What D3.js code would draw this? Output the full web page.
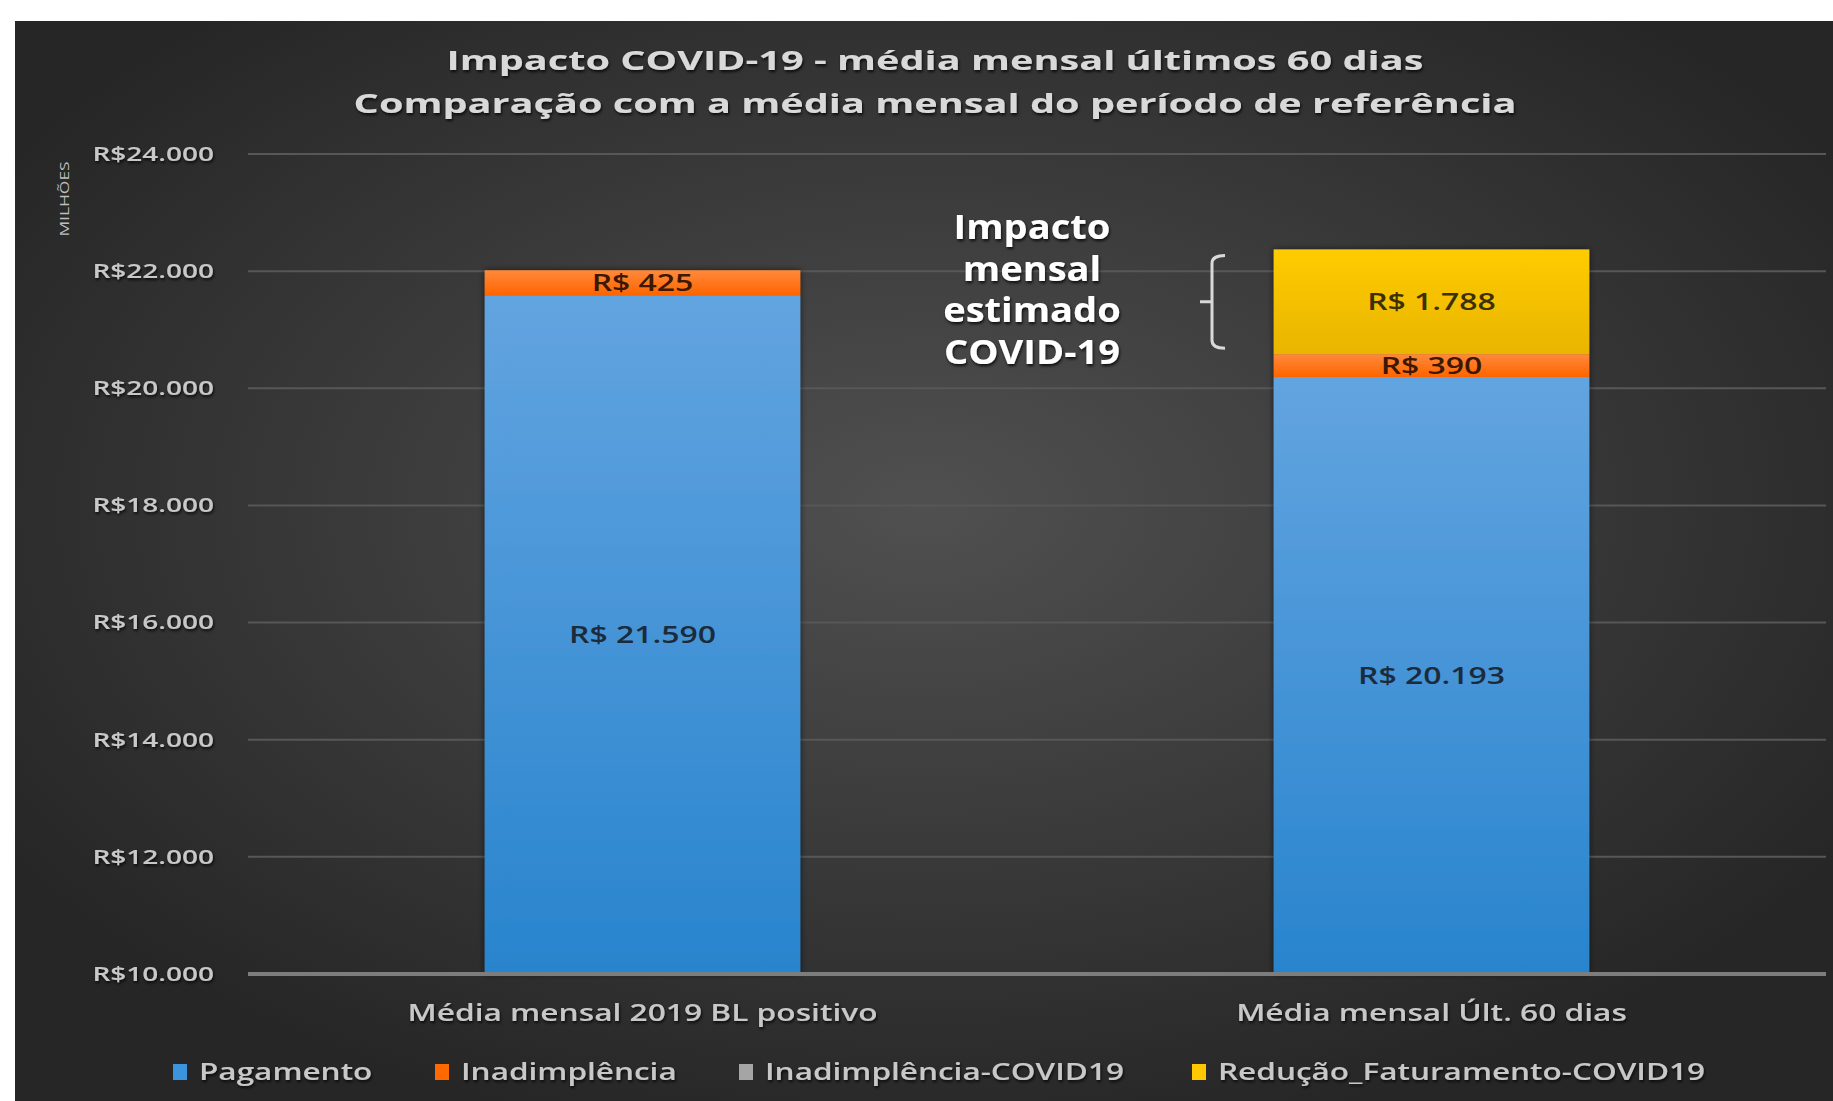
<!DOCTYPE html>
<html>
<head>
<meta charset="utf-8">
<script src="https://cdn.jsdelivr.net/npm/d3@7"></script>
<style>
  body { margin: 0; background: #fff; }
  svg { display: block; }
  text { font-family: "Open Sans", "DejaVu Sans", sans-serif; }
</style>
</head>
<body>
<div id="chart"></div>
<script>
// data (milhões de R$)
var categories = ["Média mensal 2019 BL positivo", "Média mensal Últ. 60 dias"];
var seriesNames = ["Pagamento", "Inadimplência", "Inadimplência-COVID19", "Redução_Faturamento-COVID19"];
var pagamento = [21590, 20193];
var inadimplencia = [425, 390];
var inadimplenciaCovid = [0, 0];
var reducaoFaturamento = [0, 1788];
var yTicks = [10000, 12000, 14000, 16000, 18000, 20000, 22000, 24000];
var titleLines = ["Impacto COVID-19 - média mensal últimos 60 dias", "Comparação com a média mensal do período de referência"];
var noteLines = ["Impacto", "mensal", "estimado", "COVID-19"];

var W = 1833, H = 1101;
var margin = {top: 154, right: 7, bottom: 127, left: 248};
var width = W - margin.left - margin.right;
var height = H - margin.top - margin.bottom;
var yMin = 10000;

var colors = {
  "Pagamento": "url(#gBlue)",
  "Inadimplência": "url(#gOrange)",
  "Inadimplência-COVID19": "#a5a5a5",
  "Redução_Faturamento-COVID19": "url(#gYellow)"
};
var legendColors = ["#3c95dc", "#ff6a00", "#a5a5a5", "#ffc800"];
var labelColors = {
  "Pagamento": "#1b2b3c",
  "Inadimplência": "#3d1800",
  "Inadimplência-COVID19": "#222",
  "Redução_Faturamento-COVID19": "#3d3000"
};

var fmt = d3.formatLocale({decimal: ",", thousands: ".", grouping: [3], currency: ["R$", ""]});
var tickFmt = function (d) { return "R$" + fmt.format(",")(d); };
var labelFmt = function (d) { return "R$ " + fmt.format(",")(d); };

// the reference text is drawn wide, so stretch glyphs horizontally
function widen(sel, k) {
  sel.each(function () {
    var n = this.getComputedTextLength();
    d3.select(this).attr("textLength", n * k).attr("lengthAdjust", "spacingAndGlyphs");
  });
}

var table = categories.map(function (c, i) {
  return {
    cat: c,
    "Pagamento": pagamento[i],
    "Inadimplência": inadimplencia[i],
    "Inadimplência-COVID19": inadimplenciaCovid[i],
    "Redução_Faturamento-COVID19": reducaoFaturamento[i]
  };
});

var svgRoot = d3.select("#chart").append("svg")
  .attr("width", W).attr("height", H);

var defs = svgRoot.append("defs");
var bg = defs.append("radialGradient").attr("id", "gBg")
  .attr("cx", "50%").attr("cy", "45%").attr("r", "60%");
bg.append("stop").attr("offset", "0%").attr("stop-color", "#505050");
bg.append("stop").attr("offset", "100%").attr("stop-color", "#262626");

function vGrad(id, top, bottom) {
  var g = defs.append("linearGradient").attr("id", id)
    .attr("x1", 0).attr("y1", 0).attr("x2", 0).attr("y2", 1);
  g.append("stop").attr("offset", "0%").attr("stop-color", top);
  g.append("stop").attr("offset", "100%").attr("stop-color", bottom);
}
vGrad("gBlue", "#62a4e0", "#2884cd");
vGrad("gOrange", "#ff8a3c", "#ff6400");
vGrad("gYellow", "#ffcb00", "#e9b500");

var shadow = defs.append("filter").attr("id", "shadow")
  .attr("x", "-10%").attr("y", "-10%").attr("width", "120%").attr("height", "130%");
shadow.append("feDropShadow").attr("dx", 1).attr("dy", 2).attr("stdDeviation", 1.5)
  .attr("flood-color", "#000").attr("flood-opacity", 0.8);

var barShadow = defs.append("filter").attr("id", "barShadow")
  .attr("x", "-5%").attr("y", "-5%").attr("width", "110%").attr("height", "110%");
barShadow.append("feDropShadow").attr("dx", 0).attr("dy", 0).attr("stdDeviation", 3)
  .attr("flood-color", "#000").attr("flood-opacity", 0.6);

// background
svgRoot.append("rect")
  .attr("x", 15).attr("y", 21).attr("width", W - 15).attr("height", H - 21)
  .attr("fill", "url(#gBg)");

// titles
svgRoot.selectAll(".title").data(titleLines).enter().append("text")
  .attr("class", "title")
  .attr("x", 935).attr("y", function (d, i) { return 70 + i * 43; })
  .attr("text-anchor", "middle")
  .attr("font-size", "27px").attr("font-weight", "bold")
  .attr("fill", "#d9d9d9")
  .attr("filter", "url(#shadow)")
  .text(function (d) { return d; })
  .call(widen, 1.47);

var svg = svgRoot.append("g")
  .attr("transform", "translate(" + margin.left + "," + margin.top + ")");

var x = d3.scaleBand().domain(categories).range([0, width])
  .paddingInner(0.6).paddingOuter(0.3);
var y = d3.scaleLinear().domain([yMin, 24000]).range([height, 0]);

// gridlines
svg.append("g").selectAll("line").data(yTicks.slice(1)).enter().append("line")
  .attr("x1", 0).attr("x2", width)
  .attr("y1", function (d) { return y(d); }).attr("y2", function (d) { return y(d); })
  .attr("stroke", "#575757").attr("stroke-width", 2);

// y axis labels
var yAxis = d3.axisLeft(y).tickValues(yTicks).tickFormat(tickFmt).tickSize(0).tickPadding(34);
var yAxisG = svg.append("g").call(yAxis);
yAxisG.select(".domain").remove();
yAxisG.selectAll("text")
  .attr("font-size", "20px").attr("font-weight", "600")
  .attr("fill", "#c8c8c8").attr("font-family", "'Open Sans', sans-serif")
  .attr("filter", "url(#shadow)")
  .call(widen, 1.4);

svgRoot.append("text")
  .attr("transform", "translate(69,199) rotate(-90)")
  .attr("text-anchor", "middle")
  .attr("font-size", "12px").attr("fill", "#bfbfbf")
  .text("MILHÕES")
  .call(widen, 1.45);

// stacked bars (axis starts at 10.000, so clip segments there)
var stack = d3.stack().keys(seriesNames);
var stacked = stack(table);
var lo = function (d) { return Math.max(d[0], yMin); };

var barsG = svg.append("g").attr("filter", "url(#barShadow)");
var layers = barsG.selectAll(".layer").data(stacked).enter().append("g")
  .attr("class", "layer")
  .attr("fill", function (d) { return colors[d.key]; });

layers.selectAll("rect").data(function (d) { return d.filter(function (e) { return e[1] > e[0]; }); })
  .enter().append("rect")
  .attr("x", function (d) { return x(d.data.cat); })
  .attr("width", x.bandwidth())
  .attr("y", function (d) { return y(d[1]); })
  .attr("height", function (d) { return y(lo(d)) - y(d[1]); });

// data labels
stacked.forEach(function (s) {
  svg.append("g").selectAll("text").data(s.filter(function (d) { return d[1] > d[0]; }))
    .enter().append("text")
    .attr("x", function (d) { return x(d.data.cat) + x.bandwidth() / 2; })
    .attr("y", function (d) { return (y(lo(d)) + y(d[1])) / 2; })
    .attr("dy", "0.36em")
    .attr("text-anchor", "middle")
    .attr("font-size", "24px")
    .attr("font-weight", "600")
    .attr("fill", labelColors[s.key])
    .text(function (d) { return labelFmt(d[1] - d[0]); })
    .call(widen, 1.33);
});

// baseline
svg.append("line")
  .attr("x1", 0).attr("x2", width)
  .attr("y1", y(yMin)).attr("y2", y(yMin))
  .attr("stroke", "#7d7d7d").attr("stroke-width", 4);

// category labels
var xAxis = d3.axisBottom(x).tickSize(0).tickPadding(30);
var xAxisG = svg.append("g").attr("transform", "translate(0," + height + ")").call(xAxis);
xAxisG.select(".domain").remove();
xAxisG.selectAll("text")
  .attr("font-size", "24px").attr("font-weight", "600")
  .attr("fill", "#c8c8c8").attr("font-family", "'Open Sans', sans-serif")
  .attr("filter", "url(#shadow)")
  .call(widen, 1.32);

// annotation
var noteX = 1032;
svgRoot.selectAll(".note").data(noteLines).enter().append("text")
  .attr("class", "note")
  .attr("x", noteX).attr("y", function (d, i) { return 239 + i * 41.5; })
  .attr("text-anchor", "middle")
  .attr("font-size", "34px").attr("font-weight", "bold")
  .attr("fill", "#ffffff")
  .attr("filter", "url(#shadow)")
  .text(function (d) { return d; })
  .call(widen, 1.12);

// brace spanning the COVID impact segment
var braceTop = margin.top + y(stacked[3][1][1]) + 6;
var braceBottom = margin.top + y(stacked[3][1][0]) - 6;
var braceMid = (braceTop + braceBottom) / 2;
var braceX = 1212;
svgRoot.append("path")
  .attr("d", "M" + (braceX + 13) + "," + braceTop + " Q" + braceX + "," + braceTop + " " + braceX + "," + (braceTop + 8) +
    " L" + braceX + "," + (braceBottom - 8) + " Q" + braceX + "," + braceBottom + " " + (braceX + 13) + "," + braceBottom +
    " M" + braceX + "," + braceMid + " L" + (braceX - 12) + "," + braceMid)
  .attr("fill", "none").attr("stroke", "#d9d9d9").attr("stroke-width", 3);

// legend
var legendX = [173, 435, 739, 1192];
var legend = svgRoot.selectAll(".legend").data(seriesNames).enter().append("g")
  .attr("class", "legend")
  .attr("transform", function (d, i) { return "translate(" + legendX[i] + ",1072)"; });
legend.append("rect")
  .attr("x", 0).attr("y", -8).attr("width", 14).attr("height", 16)
  .attr("fill", function (d, i) { return legendColors[i]; });
legend.append("text")
  .attr("x", 26).attr("dy", "0.36em")
  .attr("font-size", "23px").attr("font-weight", "600")
  .attr("fill", "#c8c8c8")
  .attr("filter", "url(#shadow)")
  .text(function (d) { return d; })
  .call(widen, 1.37);
</script>
</body>
</html>
